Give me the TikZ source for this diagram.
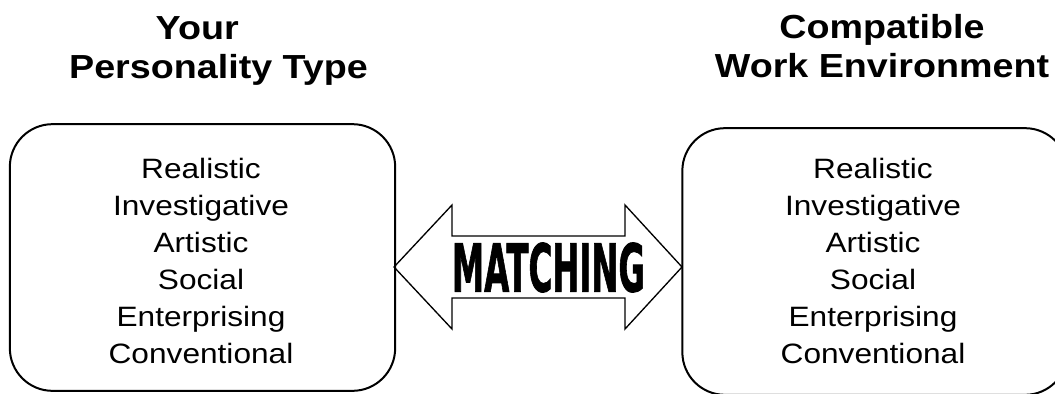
\documentclass[tikz,border=0pt]{standalone}
\usepackage{fontspec}
\setmainfont[FakeStretch=1.13]{Liberation Sans}
\newfontfamily\heavyfont[FakeBold=1.5]{DejaVu Sans Condensed Bold}
\usetikzlibrary{positioning}

\begin{document}
\begin{tikzpicture}[x=0.75pt, y=-0.75pt,
    box/.style = {draw, line width=1.5pt, rounded corners=32pt, minimum width=289pt, minimum height=200pt},
    list/.style = {align=center, font=\fontsize{21}{27.75}\selectfont},
    heading/.style = {align=center, font=\fontsize{25}{29.25}\selectfont\bfseries},
    arrowline/.style = {draw, line width=1pt, line join=miter}]
  \useasboundingbox (0,0) rectangle (1055,393);

  % the two boxes
  \node[box] (lbox) at (202.5,257.5) {};
  \node[box] (rbox) at (875,261.5) {};
  \node[list] (llist) at (201,260.5) {Realistic\\Investigative\\Artistic\\Social\\Enterprising\\Conventional};
  \node[list] (rlist) at (873,260.5) {Realistic\\Investigative\\Artistic\\Social\\Enterprising\\Conventional};

  % headings
  \node[heading] (ltitle) at (218.5,51) {Your\hspace*{32pt}\\Personality Type};
  \node[heading] (rtitle) at (882,46.5) {Compatible\\Work Environment};

  % double arrow
  \coordinate (ltip) at (394,267);
  \coordinate (rtip) at (682,267);
  \draw[arrowline] (ltip) -- ++(58,-62) -- ++(0,31) -- ++(173,0) -- ++(0,-31) -- (rtip)
    -- ++(-57,62) -- ++(0,-31) -- ++(-173,0) -- ++(0,31) -- cycle;
  \node (match) at (548.5,267.5) {\resizebox{144.75pt}{36.75pt}{\heavyfont MATCHING}};
\end{tikzpicture}
\end{document}
